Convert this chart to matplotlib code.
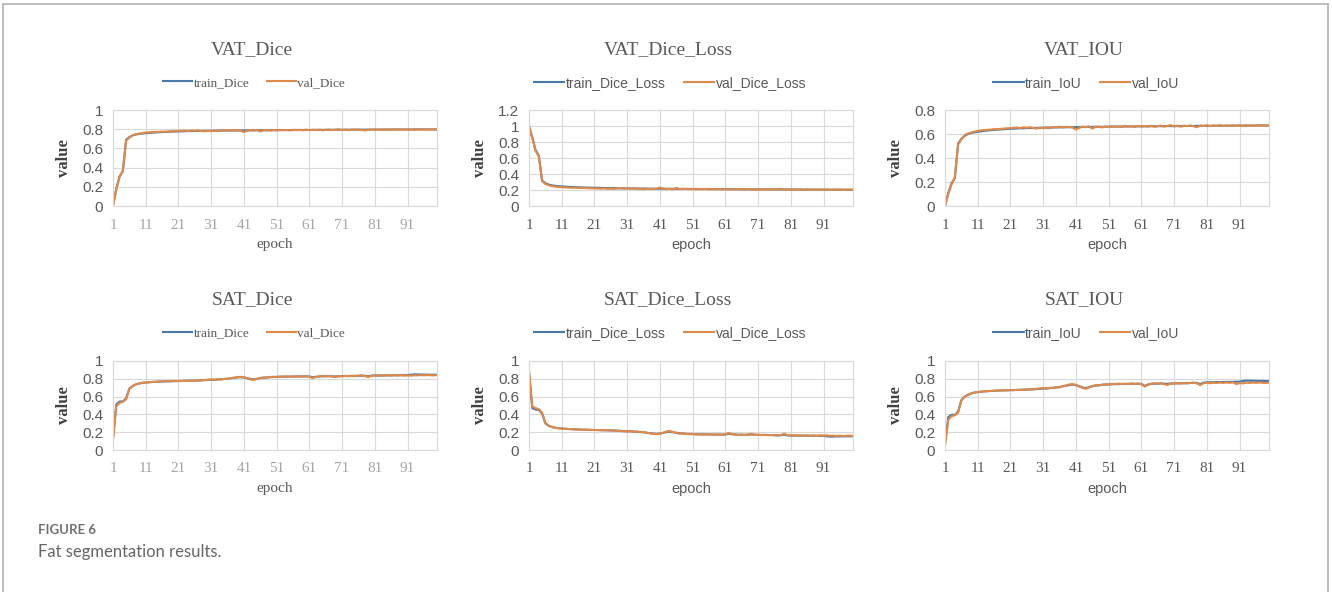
import numpy as np
import matplotlib
matplotlib.use("Agg")
import matplotlib.pyplot as plt
from matplotlib.lines import Line2D

epochs = np.arange(1, 101)
xticks = [1, 11, 21, 31, 41, 51, 61, 71, 81, 91]

vat_dice_train = [
    0.000, 0.180, 0.310, 0.360, 0.690, 0.718, 0.735, 0.745, 0.750, 0.755,
    0.758, 0.761, 0.764, 0.766, 0.768, 0.770, 0.771, 0.773, 0.775, 0.776,
    0.777, 0.778, 0.779, 0.780, 0.781, 0.781, 0.782, 0.782, 0.783, 0.783,
    0.784, 0.784, 0.785, 0.785, 0.786, 0.786, 0.786, 0.787, 0.787, 0.787,
    0.787, 0.788, 0.788, 0.788, 0.789, 0.789, 0.789, 0.789, 0.790, 0.790,
    0.790, 0.790, 0.791, 0.791, 0.791, 0.791, 0.792, 0.792, 0.792, 0.792,
    0.792, 0.793, 0.793, 0.793, 0.793, 0.793, 0.794, 0.794, 0.794, 0.794,
    0.794, 0.794, 0.795, 0.795, 0.795, 0.795, 0.795, 0.795, 0.796, 0.796,
    0.796, 0.796, 0.796, 0.796, 0.796, 0.797, 0.797, 0.797, 0.797, 0.797,
    0.797, 0.797, 0.797, 0.798, 0.798, 0.798, 0.798, 0.798, 0.798, 0.798]
vat_dice_val = [
    0.000, 0.170, 0.300, 0.370, 0.680, 0.712, 0.738, 0.748, 0.754, 0.760,
    0.765, 0.768, 0.770, 0.771, 0.772, 0.775, 0.774, 0.777, 0.778, 0.781,
    0.782, 0.784, 0.785, 0.781, 0.787, 0.784, 0.788, 0.781, 0.778, 0.784,
    0.779, 0.787, 0.778, 0.789, 0.786, 0.791, 0.786, 0.790, 0.788, 0.785,
    0.770, 0.782, 0.791, 0.787, 0.793, 0.776, 0.789, 0.790, 0.786, 0.791,
    0.788, 0.793, 0.789, 0.792, 0.787, 0.794, 0.790, 0.793, 0.788, 0.795,
    0.789, 0.794, 0.791, 0.795, 0.788, 0.793, 0.796, 0.790, 0.795, 0.799,
    0.791, 0.797, 0.789, 0.796, 0.793, 0.797, 0.792, 0.786, 0.796, 0.794,
    0.798, 0.793, 0.797, 0.795, 0.799, 0.794, 0.797, 0.796, 0.799, 0.795,
    0.798, 0.794, 0.799, 0.796, 0.798, 0.795, 0.799, 0.797, 0.796, 0.798]

vat_loss_train = [
    1.000, 0.860, 0.700, 0.630, 0.320, 0.285, 0.268, 0.258, 0.252, 0.248,
    0.245, 0.242, 0.240, 0.238, 0.236, 0.234, 0.232, 0.231, 0.230, 0.229,
    0.228, 0.227, 0.226, 0.225, 0.224, 0.223, 0.223, 0.222, 0.221, 0.221,
    0.220, 0.220, 0.219, 0.219, 0.218, 0.218, 0.217, 0.217, 0.217, 0.216,
    0.216, 0.216, 0.215, 0.215, 0.215, 0.214, 0.214, 0.214, 0.213, 0.213,
    0.213, 0.213, 0.212, 0.212, 0.212, 0.212, 0.211, 0.211, 0.211, 0.211,
    0.210, 0.210, 0.210, 0.210, 0.209, 0.209, 0.209, 0.209, 0.208, 0.208,
    0.208, 0.208, 0.208, 0.207, 0.207, 0.207, 0.207, 0.207, 0.206, 0.206,
    0.206, 0.206, 0.206, 0.206, 0.205, 0.205, 0.205, 0.205, 0.205, 0.205,
    0.204, 0.204, 0.204, 0.204, 0.204, 0.204, 0.204, 0.203, 0.203, 0.203]
vat_loss_val = [
    0.990, 0.850, 0.690, 0.620, 0.310, 0.275, 0.258, 0.248, 0.242, 0.238,
    0.234, 0.232, 0.230, 0.228, 0.229, 0.226, 0.227, 0.224, 0.223, 0.221,
    0.220, 0.218, 0.217, 0.220, 0.214, 0.217, 0.213, 0.221, 0.224, 0.217,
    0.222, 0.214, 0.223, 0.212, 0.215, 0.210, 0.215, 0.211, 0.213, 0.216,
    0.231, 0.219, 0.210, 0.214, 0.208, 0.225, 0.212, 0.211, 0.215, 0.210,
    0.213, 0.208, 0.212, 0.209, 0.214, 0.207, 0.211, 0.208, 0.213, 0.206,
    0.212, 0.207, 0.210, 0.206, 0.213, 0.208, 0.205, 0.211, 0.206, 0.202,
    0.210, 0.204, 0.212, 0.205, 0.208, 0.204, 0.209, 0.215, 0.205, 0.207,
    0.203, 0.208, 0.204, 0.206, 0.202, 0.207, 0.204, 0.205, 0.202, 0.206,
    0.203, 0.207, 0.202, 0.205, 0.203, 0.206, 0.202, 0.204, 0.205, 0.203]

vat_iou_train = [
    0.000, 0.110, 0.190, 0.230, 0.520, 0.560, 0.585, 0.600, 0.608, 0.614,
    0.618, 0.622, 0.626, 0.629, 0.632, 0.634, 0.636, 0.638, 0.640, 0.642,
    0.643, 0.645, 0.646, 0.647, 0.648, 0.649, 0.650, 0.651, 0.651, 0.652,
    0.653, 0.653, 0.654, 0.654, 0.655, 0.655, 0.656, 0.656, 0.657, 0.657,
    0.657, 0.658, 0.658, 0.659, 0.659, 0.659, 0.660, 0.660, 0.660, 0.661,
    0.661, 0.661, 0.662, 0.662, 0.662, 0.663, 0.663, 0.663, 0.663, 0.664,
    0.664, 0.664, 0.664, 0.665, 0.665, 0.665, 0.665, 0.666, 0.666, 0.666,
    0.666, 0.666, 0.667, 0.667, 0.667, 0.667, 0.667, 0.668, 0.668, 0.668,
    0.668, 0.668, 0.668, 0.669, 0.669, 0.669, 0.669, 0.669, 0.669, 0.670,
    0.670, 0.670, 0.670, 0.670, 0.670, 0.670, 0.671, 0.671, 0.671, 0.671]
vat_iou_val = [
    0.000, 0.100, 0.180, 0.240, 0.510, 0.555, 0.590, 0.605, 0.612, 0.620,
    0.626, 0.630, 0.633, 0.635, 0.637, 0.641, 0.640, 0.643, 0.645, 0.648,
    0.649, 0.652, 0.654, 0.649, 0.656, 0.652, 0.657, 0.650, 0.645, 0.654,
    0.648, 0.656, 0.647, 0.659, 0.655, 0.661, 0.655, 0.660, 0.658, 0.654,
    0.637, 0.650, 0.662, 0.657, 0.664, 0.645, 0.660, 0.661, 0.655, 0.662,
    0.658, 0.665, 0.659, 0.664, 0.657, 0.667, 0.661, 0.665, 0.658, 0.668,
    0.660, 0.667, 0.662, 0.669, 0.659, 0.666, 0.670, 0.661, 0.668, 0.674,
    0.663, 0.670, 0.660, 0.669, 0.665, 0.671, 0.664, 0.656, 0.670, 0.667,
    0.673, 0.665, 0.671, 0.668, 0.674, 0.666, 0.671, 0.669, 0.674, 0.667,
    0.672, 0.666, 0.674, 0.668, 0.672, 0.667, 0.674, 0.670, 0.668, 0.672]

sat_dice_train = [
    0.130, 0.510, 0.545, 0.545, 0.580, 0.690, 0.720, 0.738, 0.748, 0.754,
    0.758, 0.761, 0.764, 0.766, 0.768, 0.769, 0.771, 0.772, 0.773, 0.774,
    0.775, 0.776, 0.777, 0.778, 0.779, 0.780, 0.781, 0.783, 0.785, 0.787,
    0.789, 0.790, 0.792, 0.795, 0.798, 0.801, 0.806, 0.811, 0.816, 0.818,
    0.815, 0.808, 0.798, 0.793, 0.800, 0.807, 0.812, 0.815, 0.818, 0.820,
    0.822, 0.823, 0.824, 0.824, 0.825, 0.825, 0.826, 0.826, 0.827, 0.827,
    0.826, 0.818, 0.822, 0.826, 0.828, 0.829, 0.829, 0.828, 0.826, 0.829,
    0.830, 0.831, 0.831, 0.832, 0.832, 0.833, 0.835, 0.834, 0.828, 0.836,
    0.838, 0.838, 0.838, 0.839, 0.839, 0.839, 0.840, 0.840, 0.840, 0.841,
    0.842, 0.846, 0.850, 0.849, 0.848, 0.847, 0.847, 0.846, 0.846, 0.846]
sat_dice_val = [
    0.110, 0.490, 0.530, 0.540, 0.570, 0.685, 0.718, 0.737, 0.748, 0.755,
    0.758, 0.762, 0.765, 0.766, 0.769, 0.770, 0.772, 0.773, 0.773, 0.775,
    0.776, 0.775, 0.778, 0.777, 0.780, 0.779, 0.783, 0.782, 0.787, 0.790,
    0.792, 0.788, 0.795, 0.793, 0.800, 0.798, 0.808, 0.812, 0.820, 0.822,
    0.818, 0.806, 0.792, 0.786, 0.799, 0.810, 0.815, 0.812, 0.820, 0.823,
    0.818, 0.826, 0.822, 0.828, 0.823, 0.827, 0.824, 0.829, 0.825, 0.828,
    0.824, 0.808, 0.820, 0.828, 0.831, 0.827, 0.832, 0.825, 0.818, 0.830,
    0.828, 0.833, 0.829, 0.834, 0.830, 0.836, 0.838, 0.831, 0.818, 0.834,
    0.836, 0.833, 0.838, 0.835, 0.840, 0.836, 0.841, 0.837, 0.842, 0.836,
    0.838, 0.835, 0.840, 0.838, 0.842, 0.839, 0.843, 0.840, 0.838, 0.842]

sat_loss_train = [
    0.880, 0.470, 0.455, 0.450, 0.410, 0.300, 0.272, 0.258, 0.250, 0.245,
    0.242, 0.239, 0.236, 0.234, 0.232, 0.231, 0.229, 0.228, 0.227, 0.226,
    0.225, 0.224, 0.223, 0.222, 0.221, 0.220, 0.219, 0.217, 0.215, 0.213,
    0.211, 0.210, 0.208, 0.205, 0.202, 0.199, 0.194, 0.189, 0.184, 0.182,
    0.185, 0.192, 0.202, 0.207, 0.200, 0.193, 0.188, 0.185, 0.182, 0.180,
    0.178, 0.177, 0.176, 0.176, 0.175, 0.175, 0.174, 0.174, 0.173, 0.173,
    0.174, 0.182, 0.178, 0.174, 0.172, 0.171, 0.171, 0.172, 0.174, 0.171,
    0.170, 0.169, 0.169, 0.168, 0.168, 0.167, 0.165, 0.166, 0.172, 0.164,
    0.162, 0.162, 0.162, 0.161, 0.161, 0.161, 0.160, 0.160, 0.160, 0.159,
    0.158, 0.154, 0.150, 0.151, 0.152, 0.153, 0.153, 0.154, 0.154, 0.154]
sat_loss_val = [
    0.890, 0.490, 0.470, 0.460, 0.420, 0.305, 0.275, 0.260, 0.250, 0.244,
    0.241, 0.238, 0.235, 0.234, 0.231, 0.230, 0.228, 0.227, 0.227, 0.225,
    0.224, 0.225, 0.222, 0.223, 0.220, 0.221, 0.217, 0.218, 0.213, 0.210,
    0.208, 0.212, 0.205, 0.207, 0.200, 0.202, 0.192, 0.188, 0.180, 0.178,
    0.182, 0.194, 0.208, 0.214, 0.201, 0.190, 0.185, 0.188, 0.180, 0.177,
    0.182, 0.174, 0.178, 0.172, 0.177, 0.173, 0.176, 0.171, 0.175, 0.172,
    0.176, 0.192, 0.180, 0.172, 0.169, 0.173, 0.168, 0.175, 0.182, 0.170,
    0.172, 0.167, 0.171, 0.166, 0.170, 0.164, 0.162, 0.169, 0.182, 0.166,
    0.164, 0.167, 0.162, 0.165, 0.160, 0.164, 0.159, 0.163, 0.158, 0.164,
    0.162, 0.165, 0.160, 0.162, 0.158, 0.161, 0.157, 0.160, 0.162, 0.158]

sat_iou_train = [
    0.070, 0.370, 0.395, 0.395, 0.430, 0.560, 0.600, 0.620, 0.635, 0.645,
    0.650, 0.655, 0.658, 0.661, 0.663, 0.665, 0.667, 0.669, 0.670, 0.671,
    0.672, 0.674, 0.675, 0.676, 0.677, 0.679, 0.680, 0.682, 0.684, 0.687,
    0.690, 0.692, 0.695, 0.699, 0.703, 0.708, 0.715, 0.722, 0.730, 0.734,
    0.728, 0.718, 0.703, 0.696, 0.706, 0.716, 0.723, 0.728, 0.732, 0.735,
    0.737, 0.739, 0.740, 0.741, 0.742, 0.742, 0.743, 0.744, 0.744, 0.745,
    0.743, 0.720, 0.735, 0.743, 0.746, 0.747, 0.747, 0.746, 0.743, 0.747,
    0.748, 0.749, 0.750, 0.751, 0.752, 0.753, 0.756, 0.754, 0.740, 0.758,
    0.760, 0.761, 0.762, 0.763, 0.763, 0.764, 0.765, 0.765, 0.766, 0.767,
    0.768, 0.775, 0.780, 0.779, 0.778, 0.777, 0.776, 0.776, 0.775, 0.775]
sat_iou_val = [
    0.050, 0.340, 0.380, 0.390, 0.420, 0.555, 0.598, 0.620, 0.636, 0.646,
    0.651, 0.656, 0.660, 0.661, 0.664, 0.666, 0.668, 0.669, 0.669, 0.672,
    0.673, 0.672, 0.676, 0.675, 0.679, 0.678, 0.683, 0.681, 0.688, 0.692,
    0.695, 0.689, 0.700, 0.697, 0.706, 0.703, 0.718, 0.725, 0.737, 0.740,
    0.732, 0.714, 0.697, 0.688, 0.703, 0.720, 0.728, 0.724, 0.735, 0.739,
    0.733, 0.744, 0.738, 0.747, 0.740, 0.745, 0.741, 0.748, 0.742, 0.746,
    0.740, 0.712, 0.732, 0.745, 0.749, 0.743, 0.750, 0.740, 0.730, 0.748,
    0.745, 0.751, 0.746, 0.752, 0.747, 0.754, 0.756, 0.748, 0.728, 0.752,
    0.754, 0.750, 0.756, 0.752, 0.758, 0.753, 0.759, 0.754, 0.760, 0.740,
    0.752, 0.748, 0.756, 0.752, 0.758, 0.754, 0.759, 0.755, 0.753, 0.757]

titles = ["VAT_Dice", "VAT_Dice_Loss", "VAT_IOU", "SAT_Dice", "SAT_Dice_Loss", "SAT_IOU"]
legend_names = [("train_Dice", "val_Dice"), ("train_Dice_Loss", "val_Dice_Loss"),
                ("train_IoU", "val_IoU"), ("train_Dice", "val_Dice"),
                ("train_Dice_Loss", "val_Dice_Loss"), ("train_IoU", "val_IoU")]
series = [(vat_dice_train, vat_dice_val), (vat_loss_train, vat_loss_val),
          (vat_iou_train, vat_iou_val), (sat_dice_train, sat_dice_val),
          (sat_loss_train, sat_loss_val), (sat_iou_train, sat_iou_val)]
ymax = [1.0, 1.2, 0.8, 1.0, 1.0, 1.0]

W, H = 1332, 592
fig = plt.figure(figsize=(W / 100, H / 100), dpi=100)

SERIF = "Liberation Serif"
SANS = "Liberation Sans"
GRAY = "#595959"
GRID = "#d9d9d9"
C_TRAIN = "#4a78a8"
C_VAL = "#e08a4a"

# pixel boxes: axes top, axes bottom, title y, legend y
lefts = [113, 529, 945]
rows = [(110, 206, 50, 83), (361, 450, 300, 333)]

for i in range(6):
    r, c = divmod(i, 3)
    top, bot, ty, ly = rows[r]
    l = lefts[c]
    rgt = l + 324
    ax = fig.add_axes([l / W, 1 - bot / H, (rgt - l) / W, (bot - top) / H])
    excel_serif = (c == 0)
    tr, va = series[i]
    ax.plot(epochs, tr, color=C_TRAIN, lw=1.5, label=legend_names[i][0])
    ax.plot(epochs, va, color=C_VAL, lw=1.5, label=legend_names[i][1])
    ax.set_xlim(1, 100)
    ax.set_ylim(0, ymax[i])
    yt = np.round(np.arange(0, ymax[i] + 0.01, 0.2), 1)
    ax.set_yticks(yt)
    ax.set_yticklabels(["%g" % v for v in yt], family=SANS, fontsize=11, color=GRAY)
    ax.set_xticks(xticks)
    ax.set_xticklabels([str(v) for v in xticks], family=SERIF, fontsize=11,
                       color="#a6a6a6" if excel_serif else GRAY)
    ax.tick_params(axis="x", length=0, pad=9)
    ax.tick_params(axis="y", length=0, pad=7)
    ax.grid(True, color=GRID, lw=0.8)
    ax.set_axisbelow(True)
    for s in ax.spines.values():
        s.set_color(GRID)
        s.set_linewidth(0.8)
    ax.set_ylabel("value", family=SERIF, fontsize=12, fontweight="bold", color="#404040")
    ax.yaxis.set_label_coords(-0.125, 0.5)
    ax.set_xlabel("epoch", family=SERIF if excel_serif else SANS,
                  fontsize=11 if excel_serif else 10.5, color=GRAY)
    ax.xaxis.set_label_coords(0.5, -0.33 if r == 0 else -0.36)
    cx = (l + rgt) / 2 - 23
    fig.text(cx / W, 1 - ty / H, titles[i], family=SERIF, fontsize=14,
             color=GRAY, ha="center", va="center")
    fig.legend(*ax.get_legend_handles_labels(), loc="center",
               bbox_to_anchor=((cx + 2) / W, 1 - ly / H), ncol=2, frameon=False,
               prop={"family": SERIF if excel_serif else SANS,
                     "size": 9.5 if excel_serif else 10},
               labelcolor=GRAY, handlelength=2.2, handletextpad=0.1,
               columnspacing=1.3, borderaxespad=0)

# outer frame
fc = "#b3b3b3"
fig.add_artist(Line2D([3 / W, 3 / W], [0, 1 - 4 / H], transform=fig.transFigure, color=fc, lw=1.2))
fig.add_artist(Line2D([3 / W, 1328 / W], [1 - 4 / H, 1 - 4 / H], transform=fig.transFigure, color=fc, lw=1.2))
fig.add_artist(Line2D([1328 / W, 1328 / W], [0, 1 - 4 / H], transform=fig.transFigure, color=fc, lw=1.2))

fig.text(38 / W, 1 - 530 / H, "FIGURE 6", family="Lato", fontweight="bold",
         fontsize=9.5, color="#707070", va="center")
fig.text(38 / W, 1 - 552 / H, "Fat segmentation results.", family="Lato",
         fontsize=12, color="#666666", va="center")

fig.savefig("out.png", dpi=100)
